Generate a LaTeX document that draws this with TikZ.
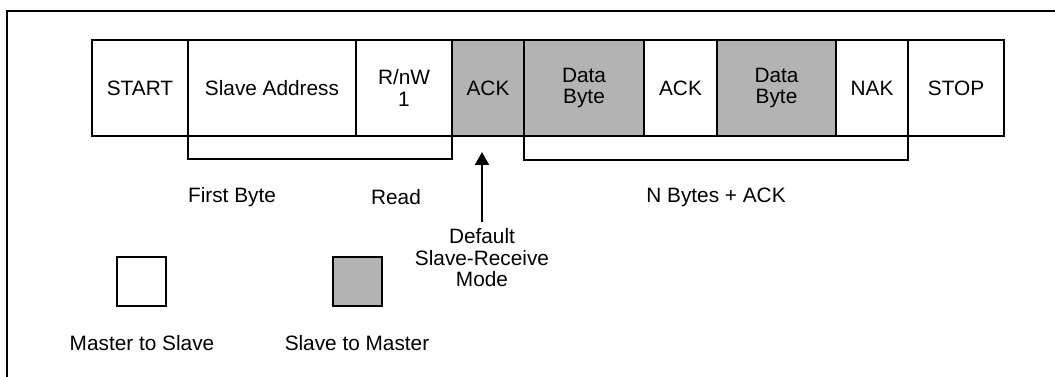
\documentclass[tikz,border=0pt]{standalone}
\usepackage{fontspec}
\setmainfont{Liberation Sans}
\usetikzlibrary{arrows.meta}
\definecolor{slavegray}{RGB}{179,179,179}
\tikzset{
    cell/.style={draw, line width=2pt, minimum height=96pt, inner sep=0pt, outer sep=0pt, align=center},
    mcell/.style={cell, fill=white},
    scell/.style={cell, fill=slavegray},
    legend/.style={draw, line width=2pt, minimum size=49pt, inner sep=0pt, outer sep=0pt},
    brace/.style={line width=2pt},
    label/.style={inner sep=0pt, align=center}
}
\begin{document}
\begin{tikzpicture}[x=1pt, y=-1pt, font=\fontsize{20.8}{21.5}\selectfont]
\useasboundingbox (0,0) rectangle (1055,377);
% frame
\draw[line width=2pt] (1055,11) -- (7,11) -- (7,377);
% message cells
\node[mcell, minimum width=96pt]  (start) at (140,88) {START};
\node[mcell, minimum width=168pt] (addr)  at (272,88) {Slave Address};
\node[mcell, minimum width=96pt]  (rnw)   at (404,88) {R/nW\\1};
\node[scell, minimum width=72pt]  (ack1)  at (488,88) {ACK};
\node[scell, minimum width=120pt] (data1) at (584,88) {Data\\Byte};
\node[mcell, minimum width=73pt]  (ack2)  at (680.5,88) {ACK};
\node[scell, minimum width=119pt] (data2) at (776.5,88) {Data\\Byte};
\node[mcell, minimum width=72pt]  (nak)   at (872,88) {NAK};
\node[mcell, minimum width=96pt]  (stop)  at (956,88) {STOP};
% brackets
\draw[brace] (addr.south west) -- ++(0,23) -| (rnw.south east);
\draw[brace] (data1.south west) -- ++(0,24) -| (nak.south east);
% labels
\node[label] (first) at (232,197) {First Byte};
\node[label] (read)  at (396,197) {Read};
\node[label] (nbytes) at (716,197) {N Bytes + ACK};
\node[label, inner sep=7pt] (mode) at (482,258) {Default\\Slave-Receive\\Mode};
\coordinate (tip) at (482,152);
\draw[line width=2pt, -{Triangle[width=14pt, length=13pt]}] (mode.north) -- (tip);
% legend
\node[legend, fill=white]     (mbox) at (141.5,281.5) {};
\node[legend, fill=slavegray] (sbox) at (357.5,281.5) {};
\node[label] (mtext) at (142,343) {Master to Slave};
\node[label] (stext) at (357,343) {Slave to Master};
\end{tikzpicture}
\end{document}
